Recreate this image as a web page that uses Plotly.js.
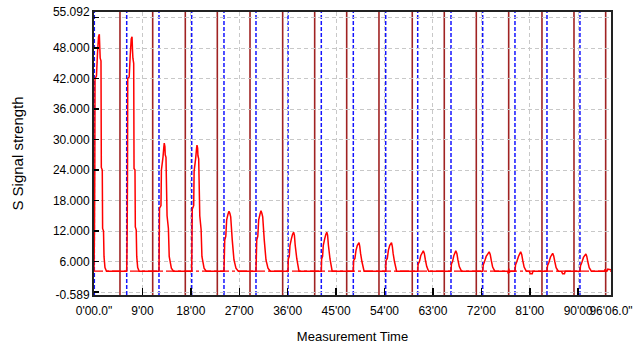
<!DOCTYPE html>
<html>
<head>
<meta charset="utf-8">
<script src="https://cdn.plot.ly/plotly-3.0.1.min.js"></script>
<style>html,body{margin:0;padding:0;background:#fff;}#chart{width:637px;height:352px;}</style>
</head>
<body>
<div id="chart"></div>
<script>
// ---- data ----
const xTickValues = [0, 9, 18, 27, 36, 45, 54, 63, 72, 81, 90, 96.1];
const xTickLabels = ["0'00.0\"", "9'00", "18'00", "27'00", "36'00", "45'00", "54'00", "63'00", "72'00", "81'00", "90'00", "96'06.0\""];
const yTickValues = [-0.589, 0, 6, 12, 18, 24, 30, 36, 42, 48, 54, 55.092];
const yTickLabels = ["-0.589", "", "6.000", "12.000", "18.000", "24.000", "30.000", "36.000", "42.000", "48.000", "", "55.092"];
const xRange = [0, 96.1];
const yRange = [-0.589, 55.092];

// injection start markers (blue dashed) and end markers (red solid), minutes
const injectTimes = [0.06, 6.08, 12.08, 18.16, 24.16, 30.11, 36.06, 42.25, 48.2, 54.22, 60.17, 66.36, 72.25, 78.25, 84.2, 90.33];
const stopTimes = [4.83, 10.91, 16.97, 22.92, 29.0, 35.07, 41.02, 46.97, 52.97, 59.16, 65.11, 71.06, 77.08, 83.27, 89.22, 95.11];

const baselineValue = 4.1;

const signalTime = [
  0, 0.09, 0.15, 0.19, 0.46, 0.65, 0.84, 0.99, 1.08, 1.15, 1.30, 1.36, 1.54, 1.60, 1.77, 1.86, 2.04, 2.32,
  6.08, 6.17, 6.23, 6.27, 6.54, 6.73, 6.92, 7.07, 7.16, 7.23, 7.38, 7.44, 7.62, 7.68, 7.85, 7.94, 8.12, 8.40,
  12.08, 12.18, 12.45, 12.53, 12.82, 12.98, 13.06, 13.18, 13.24, 13.38, 13.58, 13.83, 13.98, 14.38, 14.78,
  18.16, 18.26, 18.53, 18.61, 18.90, 19.06, 19.14, 19.26, 19.32, 19.46, 19.66, 19.91, 20.06, 20.46, 20.86,
  24.16, 24.30, 24.50, 24.66, 24.90, 25.09, 25.25, 25.41, 25.70, 26.02, 26.39, 26.82,
  30.11, 30.25, 30.45, 30.61, 30.85, 31.04, 31.20, 31.36, 31.65, 31.97, 32.34, 32.77,
  36.06, 36.12, 36.30, 36.43, 36.70, 36.90, 37.10, 37.25, 37.40, 37.70, 38.10,
  42.25, 42.31, 42.49, 42.62, 42.89, 43.09, 43.27, 43.42, 43.57, 43.87, 44.27,
  48.20, 48.26, 48.50, 48.70, 48.95, 49.26, 49.40, 49.55, 49.80, 50.20,
  54.22, 54.28, 54.52, 54.72, 54.97, 55.30, 55.45, 55.60, 55.85, 56.25,
  60.17, 60.25, 60.50, 60.75, 61.21, 61.40, 61.60, 61.85, 62.20,
  66.36, 66.44, 66.65, 66.90, 67.25, 67.45, 67.65, 67.90, 68.30,
  72.25, 72.35, 72.60, 72.90, 73.45, 73.65, 73.85, 74.10, 74.50,
  76.90, 77.00, 77.10, 77.20, 77.30,
  78.25, 78.35, 78.60, 78.90, 79.31, 79.50, 79.70, 79.95, 80.35,
  80.90, 81.10, 81.45, 81.60,
  84.20, 84.30, 84.55, 84.85, 85.26, 85.45, 85.65, 85.90, 86.30,
  86.90, 87.10, 87.45, 87.60,
  90.33, 90.43, 90.68, 90.98, 91.43, 91.60, 91.80, 92.05, 92.45,
  94.90, 95.00, 95.30, 95.50, 96.10
];
const signalValue = [
  4.1, 12, 24, 42, 42.5, 47, 50.2, 50.7, 48, 46, 45.5, 24.5, 24, 12.5, 12, 7, 4.8, 4.1,
  4.1, 12, 24, 42, 42.3, 46.5, 49.8, 50.2, 47.5, 46, 45, 24.3, 24, 12.8, 12.2, 7, 4.8, 4.1,
  4.1, 16.5, 17, 24, 26.5, 28.5, 29.3, 28.6, 27, 26.5, 15, 12.5, 7, 4.7, 4.1,
  4.1, 16.3, 17, 23.8, 26.3, 28.2, 28.9, 28.3, 26.8, 26.2, 15, 12.3, 7, 4.7, 4.1,
  4.1, 10.2, 11, 14.2, 15.3, 15.9, 15.5, 14.8, 10.2, 6.3, 4.7, 4.1,
  4.1, 10.2, 11, 14.2, 15.3, 16.0, 15.5, 14.8, 10.2, 6.3, 4.7, 4.1,
  4.1, 6.5, 7, 9.2, 10.5, 11.3, 11.75, 11.2, 9.2, 6.5, 4.1,
  4.1, 6.5, 7, 9.2, 10.5, 11.3, 11.75, 11.2, 9.2, 6.5, 4.1,
  4.1, 6.2, 6.6, 8.2, 9.2, 9.7, 9.0, 7.6, 6.0, 4.1,
  4.1, 6.2, 6.6, 8.2, 9.2, 9.7, 9.0, 7.6, 6.0, 4.1,
  4.1, 5.5, 6.0, 7.2, 8.1, 7.6, 6.3, 5.0, 4.1,
  4.1, 5.5, 6.0, 7.2, 8.1, 7.6, 6.3, 5.0, 4.1,
  4.1, 5.3, 6.0, 7.0, 7.9, 7.4, 6.2, 4.9, 4.1,
  4.1, 3.6, 4.6, 3.8, 4.1,
  4.1, 5.3, 6.0, 7.0, 7.9, 7.4, 6.2, 4.9, 4.1,
  4.1, 3.6, 3.6, 4.1,
  4.1, 5.2, 5.8, 6.9, 7.6, 7.1, 6.0, 4.8, 4.1,
  4.1, 3.6, 3.6, 4.1,
  4.1, 5.2, 5.8, 6.8, 7.5, 7.0, 5.9, 4.8, 4.1,
  4.1, 4.5, 4.0, 4.5, 4.4
];

// ---- chart ----
const FONT = 'Liberation Sans, Arial, sans-serif';

const shapes = [];
injectTimes.forEach(t => shapes.push({
  type: 'line', xref: 'x', yref: 'y', x0: t, x1: t, y0: yRange[0], y1: yRange[1],
  line: {color: 'rgb(20,20,255)', width: 1.5, dash: '4px,2px'}, layer: 'below'
}));
stopTimes.forEach(t => shapes.push({
  type: 'line', xref: 'x', yref: 'y', x0: t, x1: t, y0: yRange[0], y1: yRange[1],
  line: {color: 'rgb(160,35,35)', width: 1.6}, layer: 'below'
}));

const traces = [
  {
    x: [xRange[0], xRange[1]], y: [baselineValue, baselineValue],
    type: 'scatter', mode: 'lines', hoverinfo: 'skip',
    line: {color: '#ff0000', width: 1.4, dash: 'dashdot'}
  },
  {
    x: signalTime, y: signalValue,
    type: 'scatter', mode: 'lines',
    line: {color: '#ff0000', width: 1.5, simplify: false}
  }
];

const layout = {
  width: 637, height: 352,
  margin: {l: 94, r: 26, t: 12, b: 57, pad: 0},
  paper_bgcolor: '#ffffff', plot_bgcolor: '#ffffff',
  showlegend: false,
  font: {family: FONT, size: 12, color: '#000'},
  xaxis: {
    range: xRange, tickmode: 'array', tickvals: xTickValues, ticktext: xTickLabels,
    tickangle: 0, ticklabelstandoff: 4,
    ticks: 'inside', ticklen: 7, tickwidth: 1.5, tickcolor: '#000',
    showgrid: true, gridcolor: '#c8c8c8', griddash: '4px,3px', gridwidth: 1,
    showline: true, linecolor: '#222', linewidth: 2, mirror: true,
    zeroline: false, automargin: false,
    tickfont: {family: FONT, size: 12, color: '#000'},
    title: {text: 'Measurement Time', font: {family: FONT, size: 13, color: '#000'}, standoff: 14}
  },
  yaxis: {
    range: yRange, tickmode: 'array', tickvals: yTickValues, ticktext: yTickLabels,
    ticks: 'inside', ticklen: 5, tickwidth: 1.5, tickcolor: '#000',
    showgrid: true, gridcolor: '#c8c8c8', griddash: '4px,3px', gridwidth: 1,
    showline: true, linecolor: '#222', linewidth: 2, mirror: true,
    zeroline: false, automargin: false,
    tickfont: {family: FONT, size: 12, color: '#000'},
    title: {text: 'S Signal strength', font: {family: FONT, size: 15, color: '#000'}, standoff: 26}
  },
  shapes: shapes
};

Plotly.newPlot('chart', traces, layout, {staticPlot: true, displayModeBar: false});
</script>
</body>
</html>
